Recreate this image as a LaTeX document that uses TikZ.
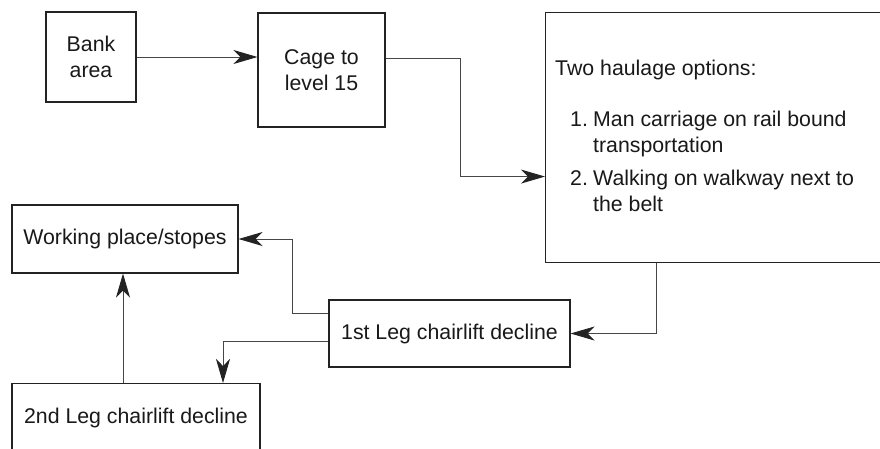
\documentclass[tikz,border=0pt]{standalone}
\usepackage{fontspec}
\setmainfont{Liberation Sans}
\usetikzlibrary{arrows.meta}
\definecolor{boxc}{RGB}{35,35,35}
\definecolor{linec}{RGB}{70,70,70}
\definecolor{txtc}{RGB}{25,25,25}
\begin{document}
\begin{tikzpicture}[x=1pt,y=-1pt,
  lbl/.style={text=txtc, inner sep=0pt, font=\fontsize{21.3}{26}\selectfont},
  box/.style={lbl, draw=boxc, line width=1.1pt, align=center},
  conn/.style={draw=linec, line width=0.9pt, -{Stealth[length=24pt,width=14pt,inset=7pt,color=boxc]}}]
\useasboundingbox (0,0) rectangle (880,448);
\clip (0,0) rectangle (880,448);
\fill[white] (0,0) rectangle (880,448);
% boxes
\node[box, minimum width=90pt, minimum height=90pt] (bank) at (91,57) {Bank\\area};
\node[box, minimum width=127pt, minimum height=114pt] (cage) at (321.5,70) {Cage to\\level 15};
\node[box, minimum width=400pt, minimum height=250pt, anchor=north west] (haul) at (545,12) {};
\node[box, minimum width=241pt, minimum height=67pt] (leg1) at (449.5,333.5) {1st Leg chairlift decline};
\node[box, minimum width=226pt, minimum height=68pt] (work) at (125,239) {Working place/stopes};
\node[box, minimum width=248pt, minimum height=68pt, anchor=north] (leg2) at (136,383) {2nd Leg chairlift decline};
% haulage text
\node[lbl, anchor=base west] (h0) at (555,75) {Two haulage options:};
\node[lbl, anchor=base west] (n1) at (570,126) {1.};
\node[lbl, anchor=base west] (t1a) at (593,126) {Man carriage on rail bound};
\node[lbl, anchor=base west] (t1b) at (593,152) {transportation};
\node[lbl, anchor=base west] (n2) at (570,185) {2.};
\node[lbl, anchor=base west] (t2a) at (593,185) {Walking on walkway next to};
\node[lbl, anchor=base west] (t2b) at (593,211) {the belt};
% connectors
\draw[conn] (bank.east) -- (bank.east -| cage.west);
\draw[conn] ([yshift=12pt]cage.east) -- ++(75,0) |- ([yshift=-39pt]haul.west);
\draw[conn] ([xshift=-89pt]haul.south) |- (leg1.east);
\draw[conn] ([yshift=20.5pt]leg1.west) -- ++(-36,0) |- (work.east);
\draw[conn] ([yshift=-7.5pt]leg1.west) -| ([xshift=87pt]leg2.north);
\draw[conn] ([xshift=-13pt]leg2.north) -- ([xshift=-13pt]leg2.north |- work.south);
\end{tikzpicture}
\end{document}
